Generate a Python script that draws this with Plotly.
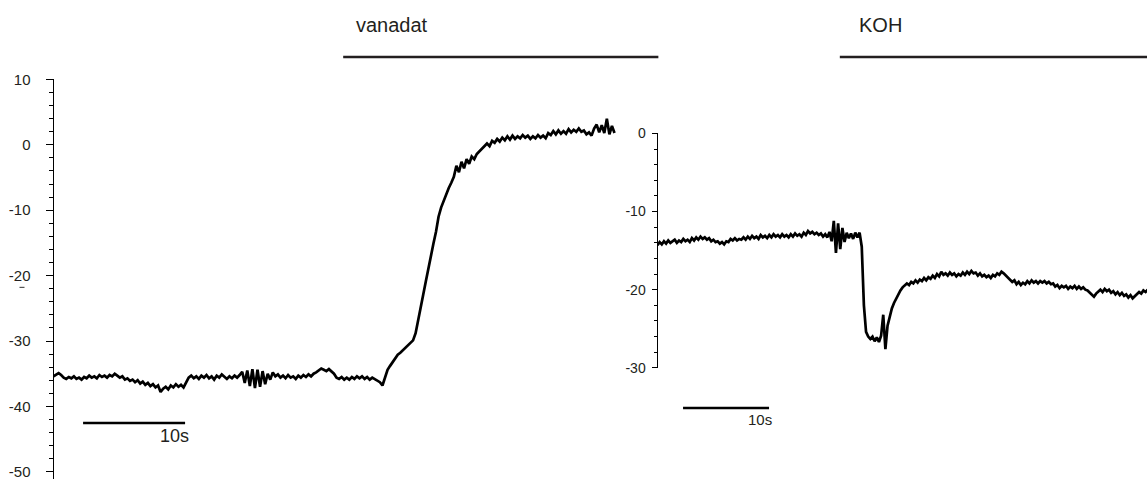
import numpy as np
import plotly.graph_objects as go

# ---------------- data ----------------
DT = 0.25  # s between samples

# left recording (membrane potential, mV), sampled every 0.25 s
V_LEFT = [
    -35.4, -35.1, -34.9, -35.2, -35.6, -35.8, -35.5, -35.7, -35.4, -35.8, -35.6, -35.9, -35.5, -35.7, -35.3, -35.6, -35.4, -35.7, -35.2, -35.5,
    -35.3, -35.6, -35.2, -35.4, -35.0, -35.3, -35.6, -35.4, -35.9, -35.7, -36.1, -35.9, -36.3, -36.0, -36.5, -36.2, -36.7, -36.4, -36.9, -36.6,
    -37.1, -36.8, -37.8, -37.3, -37.0, -37.4, -36.8, -37.1, -36.6, -37.0, -36.7, -37.1, -36.3, -35.6, -35.3, -35.7, -35.4, -35.8, -35.3, -35.6,
    -35.2, -35.7, -35.4, -35.9, -35.3, -35.6, -35.1, -35.5, -35.8, -35.4, -35.7, -35.3, -35.6, -35.2, -34.7, -36.4, -34.5, -36.9, -34.3, -37.2,
    -34.4, -37.0, -34.6, -36.6, -35.0, -35.9, -34.8, -35.4, -35.1, -35.6, -35.3, -35.7, -35.2, -35.6, -35.4, -35.8, -35.3, -35.6, -35.2, -35.5,
    -35.1, -35.4, -35.0, -34.8, -34.5, -34.2, -34.4, -34.6, -34.3, -34.6, -35.0, -35.6, -35.8, -35.5, -35.9, -35.6, -35.9, -35.5, -35.8, -35.4,
    -35.7, -35.4, -35.8, -35.5, -35.9, -35.6, -35.8, -36.0, -36.3, -36.8, -35.6, -34.4, -33.8, -33.2, -32.8, -32.1, -31.8, -31.4, -31.0, -30.7,
    -30.3, -29.9, -28.8, -27.0, -25.0, -22.9, -20.9, -18.8, -16.9, -15.1, -13.3, -11.0, -9.6, -8.5, -7.7, -6.6, -5.8, -4.9, -3.2, -4.2,
    -2.6, -3.6, -2.2, -2.9, -1.8, -2.2, -1.4, -1.0, -0.5, -0.1, 0.2, -0.2, 0.6, 0.3, 0.9, 0.5, 1.1, 0.7, 1.3, 0.8,
    1.4, 0.9, 1.3, 1.0, 1.5, 1.1, 1.4, 0.9, 1.3, 1.0, 1.5, 1.1, 1.4, 1.0, 1.8, 1.5, 2.1, 1.6, 2.2, 1.7,
    2.1, 1.7, 2.4, 1.9, 2.3, 2.0, 2.5, 2.0, 2.2, 1.6, 1.9, 1.4, 2.5, 3.1, 1.9, 3.0, 1.8, 4.0, 1.6, 2.9,
    1.8,
]

# right recording (membrane potential, mV), sampled every 0.25 s
V_RIGHT = [
    -14.3, -13.9, -14.2, -13.8, -14.1, -13.7, -14.0, -13.8, -13.6, -14.0, -13.7, -13.9, -13.5, -13.8, -13.6, -13.9, -13.4, -13.7, -13.3, -13.6,
    -13.2, -13.5, -13.3, -13.6, -13.4, -13.8, -13.6, -13.9, -13.8, -14.1, -13.9, -14.2, -13.8, -13.9, -13.5, -13.7, -13.4, -13.7, -13.5, -13.6,
    -13.3, -13.6, -13.2, -13.5, -13.1, -13.4, -13.2, -13.5, -13.0, -13.3, -13.1, -13.4, -13.0, -13.3, -12.9, -13.2, -13.0, -13.3, -12.9, -13.2,
    -13.0, -13.3, -12.9, -13.2, -12.8, -13.1, -12.9, -13.2, -12.7, -13.0, -12.5, -12.8, -12.6, -12.9, -12.7, -13.0, -12.8, -13.2, -12.9, -13.3,
    -12.6, -13.8, -11.2, -15.3, -11.5, -14.8, -12.1, -13.9, -12.7, -13.4, -12.8, -13.5, -12.7, -13.3, -12.7, -14.5, -22.0, -25.4, -26.0, -26.3,
    -26.0, -26.6, -26.1, -26.7, -25.9, -23.2, -27.6, -24.6, -23.3, -22.4, -21.7, -21.1, -20.6, -20.1, -19.7, -19.5, -19.2, -19.4, -19.0, -19.2,
    -18.8, -19.1, -18.7, -18.9, -18.5, -18.8, -18.4, -18.6, -18.2, -18.5, -18.0, -18.3, -17.7, -18.1, -17.9, -18.2, -17.8, -18.1, -17.9, -18.3,
    -18.0, -18.2, -17.8, -18.1, -17.7, -18.0, -17.6, -17.9, -17.8, -18.2, -17.9, -18.3, -18.1, -18.4, -18.2, -18.5, -18.1, -18.3, -17.9, -18.1,
    -17.7, -17.9, -18.2, -18.5, -18.7, -19.0, -18.8, -19.3, -19.0, -19.4, -19.1, -19.3, -18.9, -19.2, -18.8, -19.1, -18.9, -19.2, -18.9, -19.1,
    -18.9, -19.2, -19.0, -19.3, -19.2, -19.6, -19.4, -19.8, -19.5, -19.7, -19.5, -19.9, -19.6, -19.8, -19.5, -19.9, -19.6, -19.9, -19.7, -20.0,
    -20.1, -20.4, -20.6, -20.9, -20.5, -20.3, -20.0, -20.3, -19.9, -20.2, -20.0, -20.4, -20.2, -20.6, -20.3, -20.7, -20.4, -20.8, -20.6, -21.0,
    -20.7, -21.1, -20.8, -20.6, -20.3, -20.5, -20.1, -20.3, -20.0,
]

T_LEFT = np.arange(len(V_LEFT)) * DT
T_RIGHT = np.arange(len(V_RIGHT)) * DT

# axis ticks (mV)
LEFT_TICKS = [-50, -40, -30, -20, -10, 0, 10]
RIGHT_TICKS = [-30, -20, -10, 0]

# treatment bars: label, start (s), end (s)
TREAT_LEFT = ("vanadat", 28.4, 59.3)
TREAT_RIGHT = ("KOH", 21.2, 56.92)

# time scale bars: start (s), length (s)
SCALE_LEFT = (2.9, 10.0)
SCALE_RIGHT = (2.97, 10.0)

# ---------------- figure ----------------
W, H = 1147, 479
FONT = "Liberation Sans, Arial, sans-serif"
INK = "#231f20"

fig = go.Figure()
fig.add_trace(go.Scatter(x=T_LEFT, y=V_LEFT, mode="lines", xaxis="x", yaxis="y",
                         line=dict(color="black", width=2.7), showlegend=False, hoverinfo="skip"))
fig.add_trace(go.Scatter(x=T_RIGHT, y=V_RIGHT, mode="lines", xaxis="x2", yaxis="y2",
                         line=dict(color="black", width=2.7), showlegend=False, hoverinfo="skip"))

def py(ypx):
    return (H - ypx) / H

def yaxis_common(ticklen, minorlen, tickvals, fsize, standoff):
    return dict(
        showline=True, linecolor="black", linewidth=1,
        showgrid=False, zeroline=False, automargin=False,
        ticks="outside", ticklen=ticklen, tickwidth=1, tickcolor="black",
        tickmode="array", tickvals=tickvals, ticktext=[str(v) for v in tickvals],
        ticklabelstandoff=standoff, ticklabeloverflow="allow",
        minor=dict(ticks="outside", ticklen=minorlen, tickwidth=1, tickcolor="black", dtick=2, tick0=0),
        tickfont=dict(family=FONT, size=fsize, color=INK),
    )

left_x0, left_x1 = 53.5, 662.0
right_x0, right_x1 = 657.5, 1147.0
px_per_s_left = 10.2
px_per_s_right = 8.6

fig.update_layout(
    template="none",
    width=W, height=H, autosize=False,
    margin=dict(l=0, r=0, t=0, b=0, pad=0, autoexpand=False),
    paper_bgcolor="white", plot_bgcolor="rgba(0,0,0,0)",
    showlegend=False,
    xaxis=dict(domain=[left_x0 / W, left_x1 / W], range=[0, (left_x1 - left_x0) / px_per_s_left],
               visible=False, anchor="y", automargin=False),
    yaxis=dict(domain=[0, py(79.3)], range=[-51.1, 10.02], anchor="x",
               **yaxis_common(7, 4, LEFT_TICKS, 15, 12)),
    xaxis2=dict(domain=[right_x0 / W, right_x1 / W], range=[0, (right_x1 - right_x0) / px_per_s_right],
                visible=False, anchor="y2", automargin=False),
    yaxis2=dict(domain=[py(368.0), py(133.3)], range=[-30.02, 0.02], anchor="x2",
                **yaxis_common(5, 3, RIGHT_TICKS, 14, 3)),
)

shapes = []
annotations = []

# treatment bars with labels
for (label, t0, t1), xref, text_x in ((TREAT_LEFT, "x", 33.2), (TREAT_RIGHT, "x2", 25.9)):
    shapes.append(dict(type="line", xref=xref, yref="paper", x0=t0, x1=t1, y0=py(57), y1=py(57),
                       line=dict(color=INK, width=2.5)))
    annotations.append(dict(text=label, xref=xref, yref="paper", x=text_x, y=py(25),
                            xanchor="center", yanchor="middle", showarrow=False,
                            font=dict(family=FONT, size=20, color=INK)))

# time scale bars
for (t0, L), xref, ybar, ytext, fsize in ((SCALE_LEFT, "x", 423, 436, 18), (SCALE_RIGHT, "x2", 408, 419, 15)):
    shapes.append(dict(type="line", xref=xref, yref="paper", x0=t0, x1=t0 + L, y0=py(ybar), y1=py(ybar),
                       line=dict(color="black", width=2.5)))
    annotations.append(dict(text=f"{int(L)}s", xref=xref, yref="paper", x=t0 + L - 1.0, y=py(ytext),
                            xanchor="center", yanchor="middle", showarrow=False,
                            font=dict(family=FONT, size=fsize, color=INK)))

# stray small dash under the -20 label in the original (drawn as a short stroke)
shapes.append(dict(type="line", xref="paper", yref="y", x0=19.5 / W, x1=24.5 / W, y0=-21.8, y1=-21.8,
                   line=dict(color="#555555", width=1.2)))

fig.update_layout(shapes=shapes, annotations=annotations)
fig.write_html("out.html")
